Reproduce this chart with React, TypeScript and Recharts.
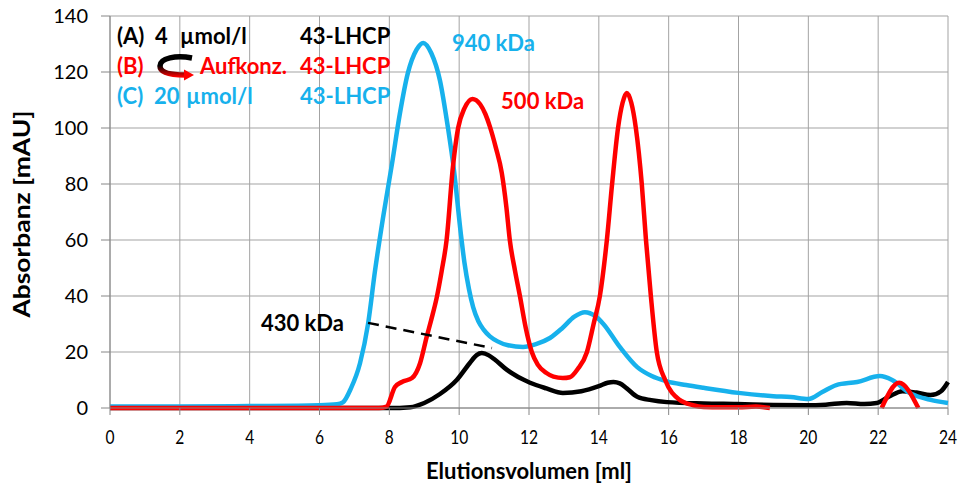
import React from "react";
import {
  LineChart,
  Line,
  XAxis,
  YAxis,
  CartesianGrid,
  ReferenceLine,
  ReferenceDot,
} from "recharts";

// Elutionsvolumen [ml] / Absorbanz [mAU]
const xTicks = [0, 2, 4, 6, 8, 10, 12, 14, 16, 18, 20, 22, 24];
const yTicks = [0, 20, 40, 60, 80, 100, 120, 140];

// (C) 20 µmol/l 43-LHCP
const blueX = [0, 2, 4, 6, 6.5, 6.67, 6.9, 7.16, 7.39, 7.59, 7.82, 8.08, 8.3, 8.53, 8.78, 8.97, 9.2, 9.45, 9.68, 9.85, 10.05, 10.15, 10.28, 10.4, 10.55, 10.7, 10.88, 11.1, 11.4, 11.83, 12.2, 12.6, 12.95, 13.3, 13.6, 13.9, 14.13, 14.6, 15.1, 15.5, 15.95, 16.5, 17, 18, 19, 19.5, 20, 20.4, 20.8, 21.4, 22.05, 22.4, 22.9, 23.5, 24];
const blueY = [0.5, 0.5, 0.7, 1.0, 1.3, 2, 7, 16, 30, 49, 68, 87.5, 105, 119.6, 128, 130.4, 126.8, 117, 100, 85, 62, 52, 42.5, 36, 31, 28, 25.6, 23.8, 22.4, 21.8, 22.8, 25, 28.5, 32.6, 34.2, 32.8, 30, 21.8, 14.6, 11.5, 9.5, 8.2, 7.2, 5.4, 4.2, 3.9, 3.2, 5.7, 8.2, 9.3, 11.4, 10, 5.4, 2.9, 1.8];

// (B) Aufkonz. 43-LHCP (gap between 18.9 and 22.1)
const redX = [0, 4, 7.7, 7.92, 8.16, 8.36, 8.65, 8.88, 9.07, 9.2, 9.36, 9.5, 9.64, 9.82, 9.97, 10.15, 10.38, 10.6, 10.75, 10.88, 11.05, 11.22, 11.35, 11.45, 11.6, 11.74, 11.9, 12.08, 12.25, 12.5, 12.7, 12.97, 13.17, 13.4, 13.66, 13.85, 14.03, 14.23, 14.38, 14.55, 14.68, 14.8, 14.93, 15.06, 15.23, 15.35, 15.49, 15.66, 15.9, 16.3, 16.7, 17.0, 17.5, 18, 18.5, 18.9, 20, 22.1, 22.6, 23.15];
const redY = [0, 0, 0, 0.5, 7.5, 9.3, 10.7, 16, 25.4, 31.5, 39.6, 49, 60, 86, 100, 107, 110.4, 108.5, 105, 100.5, 93, 84, 72, 60, 49, 40, 29, 20, 15.5, 12.5, 11.2, 10.7, 11, 14, 20, 30, 40, 60, 80, 100, 109, 112.5, 109, 100, 80, 60, 40, 20, 10, 3, 1, 0.4, 0.3, 0.3, 0.5, 0, null, 0, 9, 0];

// (A) 4 µmol/l 43-LHCP
const blackX = [0, 4, 8, 8.6, 9.0, 9.45, 9.93, 10.3, 10.5, 10.65, 10.85, 11.0, 11.37, 12.03, 12.5, 12.97, 13.5, 14.0, 14.25, 14.42, 14.6, 14.8, 15.1, 15.5, 15.95, 17, 17.95, 19, 19.95, 20.5, 21.1, 21.6, 21.96, 22.3, 22.7, 23.1, 23.5, 23.8, 24];
const blackY = [0, 0, 0, 0.3, 1.8, 5, 10, 16, 18.9, 19.6, 18.8, 17.5, 13.6, 9, 7, 5.4, 6, 7.8, 9, 9.3, 8.8, 7, 4, 2.8, 2.1, 1.6, 1.4, 1.1, 1, 1.2, 1.8, 1.4, 1.8, 4, 6, 5.5, 4.6, 6, 9.3];

const BLUE = "#17b1ec";
const RED = "#ff0000";
const FONT = "Lato, 'Open Sans', sans-serif";

const toRows = (xs: number[], ys: (number | null)[]) =>
  xs.map((x, i) => ({ x, y: ys[i] }));

const blueData = toRows(blueX, blueY);
const redData = toRows(redX, redY);
const blackData = toRows(blackX, blackY);

const XTick = (props: any) => {
  const { x, y, payload } = props;
  return (
    <g transform={`translate(${x},${y})`}>
      <text
        transform="scale(0.78,1)"
        textAnchor="middle"
        dy="0.71em"
        fontSize={20}
        fontFamily={FONT}
        fill="#000"
      >
        {payload.value}
      </text>
    </g>
  );
};

const lbl = (value: string, fill: string) => ({
  value,
  position: "center" as const,
  fill,
  fontSize: 22,
  fontWeight: 700,
  fontFamily: FONT,
});

export default function App() {
  return (
    <div style={{ position: "absolute", left: 0, top: 0, width: 960, height: 488, background: "#fff" }}>
      <LineChart width={960} height={488} margin={{ top: 16, right: 12, bottom: 0, left: 0 }}>
        <CartesianGrid stroke="#a3a3a3" strokeWidth={1} />
        <XAxis
          type="number"
          dataKey="x"
          domain={[0, 24]}
          ticks={xTicks}
          height={80}
          tickSize={7}
          tickMargin={15}
          axisLine={{ stroke: "#868686" }}
          tickLine={{ stroke: "#868686" }}
          tick={<XTick />}
          allowDuplicatedCategory={false}
        />
        <YAxis
          type="number"
          domain={[0, 140]}
          ticks={yTicks}
          width={110}
          tickSize={9}
          tickMargin={13}
          axisLine={{ stroke: "#868686" }}
          tickLine={{ stroke: "#868686" }}
          tick={{ fill: "#000", fontSize: 20, fontFamily: FONT }}
        />
        <Line data={blackData} dataKey="y" type="monotone" stroke="#000" strokeWidth={4.5} dot={false} isAnimationActive={false} />
        <Line data={blueData} dataKey="y" type="monotone" stroke={BLUE} strokeWidth={4.5} dot={false} isAnimationActive={false} />
        <Line data={redData} dataKey="y" type="monotone" stroke={RED} strokeWidth={4.5} dot={false} isAnimationActive={false} />
        <ReferenceLine
          segment={[{ x: 7.39, y: 30.4 }, { x: 10.94, y: 21.4 }]}
          stroke="#000"
          strokeWidth={2.5}
          strokeDasharray="11 7"
        />
        <ReferenceDot x={10.98} y={130.4} r={0} label={lbl("940 kDa", BLUE)} />
        <ReferenceDot x={12.39} y={109.6} r={0} label={lbl("500 kDa", RED)} />
        <ReferenceDot x={5.51} y={30.4} r={0} label={lbl("430 kDa", "#000")} />
      </LineChart>

      {/* legend block and axis titles */}
      <svg
        width={960}
        height={488}
        style={{ position: "absolute", left: 0, top: 0, pointerEvents: "none" }}
        fontFamily={FONT}
        fontWeight={700}
        fontSize={22}
      >
        <defs>
          <linearGradient id="arrowGrad" gradientUnits="userSpaceOnUse" x1="0" y1="56" x2="0" y2="77">
            <stop offset="0%" stopColor="#000" />
            <stop offset="45%" stopColor="#000" />
            <stop offset="100%" stopColor={RED} />
          </linearGradient>
        </defs>
        <text x={117} y={44} fill="#000">(A)</text>
        <text x={155} y={44} fill="#000">4</text>
        <text x={180} y={44} fill="#000">µmol/l</text>
        <text x={300} y={44} fill="#000">43-LHCP</text>

        <text x={117} y={74} fill={RED}>(B)</text>
        <path d="M192,58 C176,55 160,58 160,66 C160,74 174,75 185,75" fill="none" stroke="url(#arrowGrad)" strokeWidth={5.5} />
        <polygon points="184,69.5 194,75 184,80.5" fill={RED} />
        <text x={200} y={74} fill={RED}>Aufkonz.</text>
        <text x={300} y={74} fill={RED}>43-LHCP</text>

        <text x={117} y={104} fill={BLUE}>(C)</text>
        <text x={154} y={104} fill={BLUE}>20</text>
        <text x={186} y={104} fill={BLUE}>µmol/l</text>
        <text x={300} y={104} fill={BLUE}>43-LHCP</text>

        <text x={529} y={479} textAnchor="middle" fill="#000">Elutionsvolumen [ml]</text>
        <text
          transform="translate(30,214) rotate(-90) scale(1.2,1)"
          textAnchor="middle"
          fill="#000"
        >
          Absorbanz [mAU]
        </text>
      </svg>
    </div>
  );
}
